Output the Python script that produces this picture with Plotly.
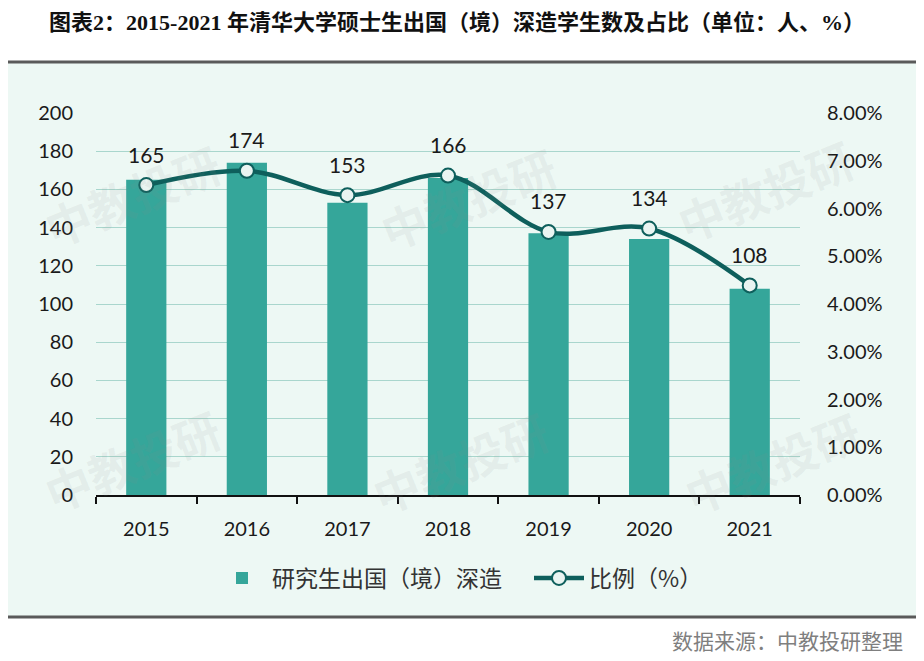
import plotly.graph_objects as go

years = ["2015", "2016", "2017", "2018", "2019", "2020", "2021"]
students = [165, 174, 153, 166, 137, 134, 108]
ratio = [0.0649, 0.0679, 0.0628, 0.0669, 0.0551, 0.0558, 0.0439]
left_ticks = [0, 20, 40, 60, 80, 100, 120, 140, 160, 180, 200]
right_ticks = [0, 0.01, 0.02, 0.03, 0.04, 0.05, 0.06, 0.07, 0.08]

title_text = "图表2：2015-2021 年清华大学硕士生出国（境）深造学生数及占比（单位：人、%）"
bar_name = "研究生出国（境）深造"
line_name = "比例（%）"
source_text = "数据来源：中教投研整理"
watermark = "中教投研"

OFF = 8  # page body margin
W, H = 924 - OFF, 661 - OFF
L = 96 - OFF
T = 113 - OFF
R = W - (800 - OFF)
B = H - (495 - OFF)
PW, PH = W - L - R, H - T - B


def px(x):
    return (x - OFF - L) / PW


def py(y):
    return (H - B - (y - OFF)) / PH


BAR_C = "#35A69A"
LINE_C = "#0E5F5C"
BG = "#EDF8F4"
NUM_FONT = "Lato, Carlito, Open Sans, sans-serif"
CJK = "Noto Sans CJK SC"

fig = go.Figure()
fig.add_trace(go.Bar(
    x=years, y=students, name=bar_name, width=0.4,
    marker=dict(color=BAR_C, line=dict(width=0)),
    yaxis="y", legend="legend",
))
fig.add_trace(go.Scatter(
    x=years, y=ratio, name=line_name, yaxis="y2", legend="legend2",
    mode="lines+markers",
    line=dict(color=LINE_C, width=4.5, shape="spline", smoothing=1.0),
    marker=dict(size=14, color="#E9F4F1", line=dict(color=LINE_C, width=2)),
))

annotations = []
for i, (v, r) in enumerate(zip(students, ratio)):
    annotations.append(dict(
        x=i, y=r, xref="x", yref="y2", text=str(v), showarrow=False,
        yshift=31, font=dict(family=NUM_FONT, size=21, color="#1a1a1a"),
    ))

for cx, cy in [(132, 195), (132, 460), (468, 198), (460, 462), (765, 190), (772, 462)]:
    annotations.append(dict(
        x=px(cx), y=py(cy), xref="paper", yref="paper", text=watermark,
        showarrow=False, textangle=-22, xanchor="center", yanchor="middle",
        font=dict(family=CJK, size=46, color="rgba(140,140,140,0.10)", weight="bold"),
    ))

annotations.append(dict(
    x=px(905), y=py(640), xref="paper", yref="paper", text=source_text,
    showarrow=False, xanchor="right", yanchor="middle",
    font=dict(family=CJK, size=21, color="#7f7f7f"),
))

shapes = [
    dict(type="rect", xref="paper", yref="paper", x0=px(7), x1=px(917), y0=py(617), y1=py(62),
         fillcolor=BG, line=dict(width=0), layer="below"),
    dict(type="line", xref="paper", yref="paper", x0=px(7), x1=px(917), y0=py(62), y1=py(62),
         line=dict(color="#5a5a5a", width=3), layer="below"),
    dict(type="line", xref="paper", yref="paper", x0=px(7), x1=px(917), y0=py(617), y1=py(617),
         line=dict(color="#5a5a5a", width=3), layer="below"),
]

legend_common = dict(orientation="h", xanchor="left", y=py(578), yanchor="middle",
                     font=dict(family=CJK, size=23, color="#333"), bgcolor="rgba(0,0,0,0)",
                     itemwidth=50)

fig.update_layout(
    width=W, height=H,
    margin=dict(l=L, r=R, t=T, b=B),
    paper_bgcolor="white",
    plot_bgcolor="rgba(0,0,0,0)",
    title=dict(text=title_text, x=(457 - OFF) / W, xref="container", xanchor="center",
               y=1 - (22 - OFF) / H, yref="container", yanchor="middle",
               font=dict(family="Liberation Serif, " + CJK, size=22, color="#111", weight="bold")),
    xaxis=dict(type="category", range=[-0.5, 6.5], tickson="boundaries",
               ticks="outside", ticklen=7, tickcolor="#111", tickwidth=1.5,
               showline=True, linecolor="#111", linewidth=1.5, showgrid=False,
               ticklabelstandoff=15,
               tickfont=dict(family=NUM_FONT, size=20, color="#1a1a1a")),
    yaxis=dict(range=[0, 200], tickvals=left_ticks, showgrid=True, gridcolor="#A9D6CD",
               gridwidth=1.3, zeroline=False, showline=False, ticks="",
               ticklabelstandoff=22,
               tickfont=dict(family=NUM_FONT, size=20, color="#1a1a1a")),
    yaxis2=dict(range=[0, 0.08], tickvals=right_ticks, tickformat=".2%", overlaying="y",
                side="right", showgrid=False, zeroline=False, showline=False,
                ticklabelstandoff=26,
                tickfont=dict(family=NUM_FONT, size=20, color="#1a1a1a")),
    legend=dict(x=px(212), **legend_common),
    legend2=dict(x=px(529), **legend_common),
    bargap=0.6,
    annotations=annotations,
    shapes=shapes,
    showlegend=True,
)

fig.write_html("out.html")
